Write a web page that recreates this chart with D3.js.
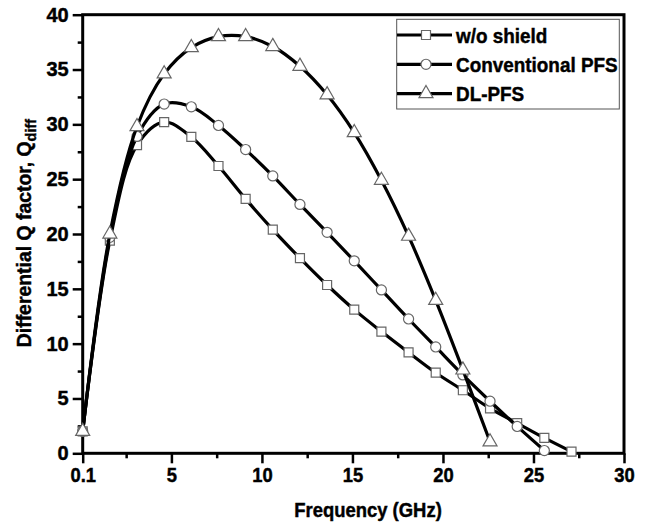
<!DOCTYPE html>
<html>
<head>
<meta charset="utf-8">
<script src="https://cdn.jsdelivr.net/npm/d3@7"></script>
<style>
body { margin: 0; background: #fff; }
text { font-family: "Liberation Sans", Arial, sans-serif; font-weight: bold; fill: #000; stroke: #000; stroke-width: 0.45px; }
</style>
</head>
<body>
<script>
// frequency points (GHz)
var freq = [0.1, 1.6, 3.1, 4.6, 6.1, 7.6, 9.1, 10.6, 12.1, 13.6, 15.1, 16.6, 18.1, 19.6, 21.1, 22.6, 24.1, 25.6, 27.1];
var woShield = [2.0, 19.4, 28.1, 30.2, 28.85, 26.2, 23.2, 20.4, 17.8, 15.35, 13.1, 11.1, 9.2, 7.35, 5.75, 4.1, 2.75, 1.4, 0.15];
var convPFS = [2.0, 19.7, 28.9, 31.85, 31.6, 29.9, 27.7, 25.3, 22.7, 20.15, 17.55, 14.9, 12.25, 9.7, 7.15, 4.75, 2.45, 0.25];
var dlPFS = [2.0, 20.0, 29.8, 34.6, 37.0, 38.0, 38.0, 37.1, 35.3, 32.7, 29.25, 24.9, 19.8, 13.95, 7.6, 1.05];
var seriesNames = ["w/o shield", "Conventional PFS", "DL-PFS"];
var xTicks = [0.1, 5, 10, 15, 20, 25, 30];
var xMinor = [2.5, 7.5, 12.5, 17.5, 22.5, 27.5];
var yTicks = [0, 5, 10, 15, 20, 25, 30, 35, 40];
var yMinor = [2.5, 7.5, 12.5, 17.5, 22.5, 27.5, 32.5, 37.5];

var width = 648, height = 527;
var plotL = 82.7, plotR = 624, plotT = 14.7, plotB = 453.3;

var svg = d3.select("body").append("svg")
  .attr("width", width)
  .attr("height", height);

var x = d3.scaleLinear().domain([0.1, 30]).range([plotL, plotR]);
var y = d3.scaleLinear().domain([0, 40]).range([plotB, plotT]);

// axes
function styleAxis(g) {
  g.select(".domain").remove();
  g.selectAll(".tick line").attr("stroke", "#000").attr("stroke-width", 2.5);
  g.selectAll(".tick text").attr("font-family", null).attr("font-size", null).style("font-size", "20px");
}

var xAxis = svg.append("g")
  .attr("transform", "translate(0," + plotB + ")")
  .call(d3.axisBottom(x).tickValues(xTicks).tickFormat(function(d) { return d === 0.1 ? "0.1" : d; }).tickSize(10).tickSizeOuter(0).tickPadding(5));
styleAxis(xAxis);
xAxis.selectAll(".tick text").attr("transform", "scale(0.92,1)");

var xAxisMinor = svg.append("g")
  .attr("transform", "translate(0," + plotB + ")")
  .call(d3.axisBottom(x).tickValues(xMinor).tickFormat("").tickSize(5).tickSizeOuter(0));
styleAxis(xAxisMinor);

var yAxis = svg.append("g")
  .attr("transform", "translate(" + plotL + ",0)")
  .call(d3.axisLeft(y).tickValues(yTicks).tickSize(10).tickSizeOuter(0).tickPadding(4));
styleAxis(yAxis);

var yAxisMinor = svg.append("g")
  .attr("transform", "translate(" + plotL + ",0)")
  .call(d3.axisLeft(y).tickValues(yMinor).tickFormat("").tickSize(5).tickSizeOuter(0));
styleAxis(yAxisMinor);

// frame
svg.append("rect")
  .attr("x", plotL)
  .attr("y", plotT)
  .attr("width", plotR - plotL)
  .attr("height", plotB - plotT)
  .attr("fill", "none")
  .attr("stroke", "#000")
  .attr("stroke-width", 3);

// series
var symbols = [d3.symbolSquare, d3.symbolCircle, d3.symbolTriangle];
var symSizes = [81, 80, 85];
var allSeries = [woShield, convPFS, dlPFS];

var line = d3.line()
  .x(function(d) { return x(d[0]); })
  .y(function(d) { return y(d[1]); })
  .curve(d3.curveCatmullRom.alpha(0.5));

allSeries.forEach(function(vals, i) {
  var pts = vals.map(function(v, j) { return [freq[j], v]; });
  svg.append("path")
    .datum(pts)
    .attr("d", line)
    .attr("fill", "none")
    .attr("stroke", "#000")
    .attr("stroke-width", 3.2);
  svg.append("g").selectAll("path")
    .data(pts)
    .enter().append("path")
    .attr("transform", function(d) { return "translate(" + x(d[0]) + "," + y(d[1]) + ")"; })
    .attr("d", d3.symbol().type(symbols[i]).size(symSizes[i]))
    .attr("fill", "#fff")
    .attr("stroke", "#666")
    .attr("stroke-width", 1.2);
});

// legend
var legend = svg.append("g");
legend.append("rect")
  .attr("x", 396.7)
  .attr("y", 19.3)
  .attr("width", 222.6)
  .attr("height", 89.7)
  .attr("fill", "#fff")
  .attr("stroke", "#555")
  .attr("stroke-width", 1);

seriesNames.forEach(function(name, i) {
  var ly = 35 + i * 29.3;
  legend.append("line")
    .attr("x1", 397).attr("x2", 452)
    .attr("y1", ly).attr("y2", ly)
    .attr("stroke", "#000")
    .attr("stroke-width", 3.2);
  legend.append("path")
    .attr("transform", "translate(426," + ly + ")")
    .attr("d", d3.symbol().type(symbols[i]).size(symSizes[i]))
    .attr("fill", "#fff")
    .attr("stroke", "#666")
    .attr("stroke-width", 1.2);
  legend.append("text")
    .attr("transform", "translate(456," + (ly + 7.5) + ") scale(0.9,1)")
    .style("font-size", "21px")
    .text(name);
});

// axis titles
svg.append("text")
  .attr("transform", "translate(368,517) scale(0.9,1)")
  .attr("text-anchor", "middle")
  .style("font-size", "20.5px")
  .text("Frequency (GHz)");

var yl = svg.append("text")
  .attr("transform", "translate(31,233) rotate(-90) scale(0.97,1)")
  .attr("text-anchor", "middle")
  .style("font-size", "20px");
yl.append("tspan").text("Differential Q factor, Q");
yl.append("tspan").attr("dy", 5).style("font-size", "15px").text("diff");
</script>
</body>
</html>
